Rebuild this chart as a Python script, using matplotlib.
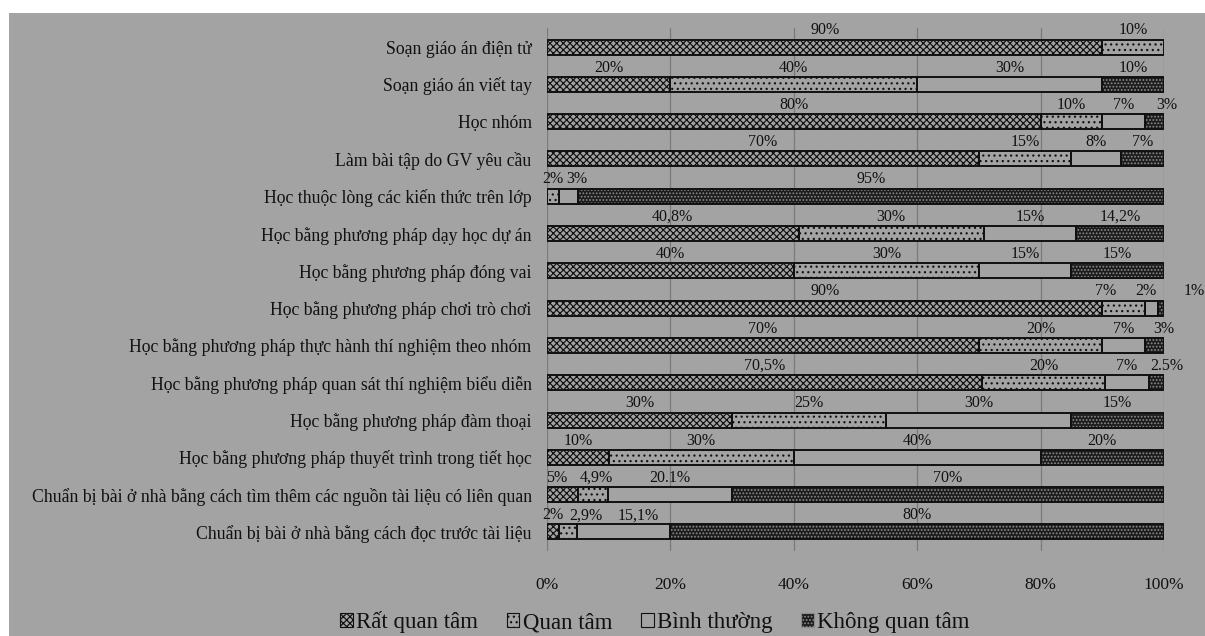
import matplotlib
matplotlib.use("Agg")
import matplotlib.pyplot as plt
from matplotlib.patches import Rectangle, Patch
import numpy as np

categories = [
    "Soạn giáo án điện tử",
    "Soạn giáo án viết tay",
    "Học nhóm",
    "Làm bài tập do GV yêu cầu",
    "Học thuộc lòng các kiến thức trên lớp",
    "Học bằng phương pháp dạy học dự án",
    "Học bằng phương pháp đóng vai",
    "Học bằng phương pháp chơi trò chơi",
    "Học bằng phương pháp thực hành thí nghiệm theo nhóm",
    "Học bằng phương pháp quan sát thí nghiệm biểu diễn",
    "Học bằng phương pháp đàm thoại",
    "Học bằng phương pháp thuyết trình trong tiết học",
    "Chuẩn bị bài ở nhà bằng cách tìm thêm các nguồn tài liệu có liên quan",
    "Chuẩn bị bài ở nhà bằng cách đọc trước tài liệu",
]
series_names = ["Rất quan tâm", "Quan tâm", "Bình thường", "Không quan tâm"]
rat_quan_tam = [90, 20, 80, 70, 0, 40.8, 40, 90, 70, 70.5, 30, 10, 5, 2]
quan_tam = [10, 40, 10, 15, 2, 30, 30, 7, 20, 20, 25, 30, 4.9, 2.9]
binh_thuong = [0, 30, 7, 8, 3, 15, 15, 2, 7, 7, 30, 40, 20.1, 15.1]
khong_quan_tam = [0, 10, 3, 7, 95, 14.2, 15, 1, 3, 2.5, 15, 20, 70, 80]
# data label texts as printed on the chart (None = no label)
lbl_rat = ["90%", "20%", "80%", "70%", None, "40,8%", "40%", "90%", "70%", "70,5%", "30%", "10%", "5%", "2%"]
lbl_quan = ["10%", "40%", "10%", "15%", "2%", "30%", "30%", "7%", "20%", "20%", "25%", "30%", "4,9%", "2,9%"]
lbl_binh = [None, "30%", "7%", "8%", "3%", "15%", "15%", "2%", "7%", "7%", "30%", "40%", "20.1%", "15,1%"]
lbl_khong = [None, "10%", "3%", "7%", "95%", "14,2%", "15%", "1%", "3%", "2.5%", "15%", "20%", "70%", "80%"]
x_ticks = [0, 20, 40, 60, 80, 100]
x_tick_labels = ["0%", "20%", "40%", "60%", "80%", "100%"]

BG = "#a3a3a3"
W, H = 1205, 636
fig = plt.figure(figsize=(W / 100, H / 100), dpi=100)
fig.patch.set_facecolor("white")
fig.patches.append(Rectangle((9 / W, 0), 1 - 9 / W, 1 - 13 / H, transform=fig.transFigure,
                             facecolor=BG, edgecolor="none", zorder=-10))

plt.rcParams["hatch.linewidth"] = 0.85
SERIF = ["Liberation Serif", "DejaVu Serif"]

left_px, right_px, top_px, bot_px = 547, 1164, 28.4, 550.6
ax = fig.add_axes([left_px / W, 1 - bot_px / H, (right_px - left_px) / W, (bot_px - top_px) / H])
ax.set_facecolor("none")
for s in ax.spines.values():
    s.set_visible(False)

y = np.arange(len(categories))
h = 0.4
series = [rat_quan_tam, quan_tam, binh_thuong, khong_quan_tam]
labels = [lbl_rat, lbl_quan, lbl_binh, lbl_khong]
styles = [
    dict(facecolor=BG, hatch_edge="#111111", hatch="xxxxx"),
    dict(facecolor=BG, hatch_edge="#111111", hatch="..."),
    dict(facecolor=BG, hatch_edge=BG, hatch=None),
    dict(facecolor="#1c1c1c", hatch_edge="#8c8c8c", hatch="....."),
]
# manual nudges of individual data labels (row, series): shift in % units
label_dx = {(7, 3): 5.4, (7, 2): -1.0, (7, 1): -3.0, (2, 3): 1.9, (9, 3): 1.7, (8, 3): 1.5,
            (4, 2): 1.4, (13, 1): 2.9, (13, 2): 2.3, (12, 0): -0.9, (12, 1): 0.6}

left = np.zeros(len(categories))
for k, (vals, st) in enumerate(zip(series, styles)):
    vals = np.array(vals, dtype=float)
    ax.barh(y, vals, left=left, height=h, color=st["facecolor"], edgecolor=st["hatch_edge"],
            hatch=st["hatch"], linewidth=0, zorder=2)
    ax.barh(y, vals, left=left, height=h, fill=False, edgecolor="#111111", linewidth=1.4, zorder=3)
    for i, (v, t) in enumerate(zip(vals, labels[k])):
        if t is None:
            continue
        xc = left[i] + v / 2 + label_dx.get((i, k), 0)
        ax.text(xc, i - 0.45, t, ha="center", va="center", fontsize=11.5, family=SERIF,
                color="#111111", zorder=4)
    left += vals

ax.set_xlim(0, 100)
ax.set_ylim(len(categories) - 0.5, -0.5)
ax.set_xticks(x_ticks)
ax.set_xticklabels(x_tick_labels, family=SERIF, fontsize=12.5, color="#111111")
ax.set_yticks(y)
ax.set_yticklabels(categories, family=SERIF, fontsize=12.8, color="#111111")
ax.tick_params(axis="both", length=0)
ax.tick_params(axis="y", pad=11)
ax.tick_params(axis="x", pad=19)
ax.xaxis.grid(True, color="#7a7a7a", linewidth=0.9, zorder=0)
ax.set_axisbelow(True)

handles = [
    Patch(facecolor=BG, edgecolor="#111111", hatch="xxxxx", linewidth=0.8),
    Patch(facecolor=BG, edgecolor="#111111", hatch="...", linewidth=0.8),
    Patch(facecolor=BG, edgecolor="#111111", linewidth=0.8),
    Patch(facecolor="#1c1c1c", edgecolor="#8c8c8c", hatch=".....", linewidth=0.8),
]
fig.legend(handles, series_names, loc="center", bbox_to_anchor=(655 / W, 1 - 622 / H), ncol=4,
           frameon=False, prop={"family": SERIF, "size": 16.5}, handlelength=0.55, handleheight=0.6,
           handletextpad=0.15, columnspacing=1.25, labelcolor="#111111")

fig.savefig("out.png", dpi=100, facecolor=fig.get_facecolor())
